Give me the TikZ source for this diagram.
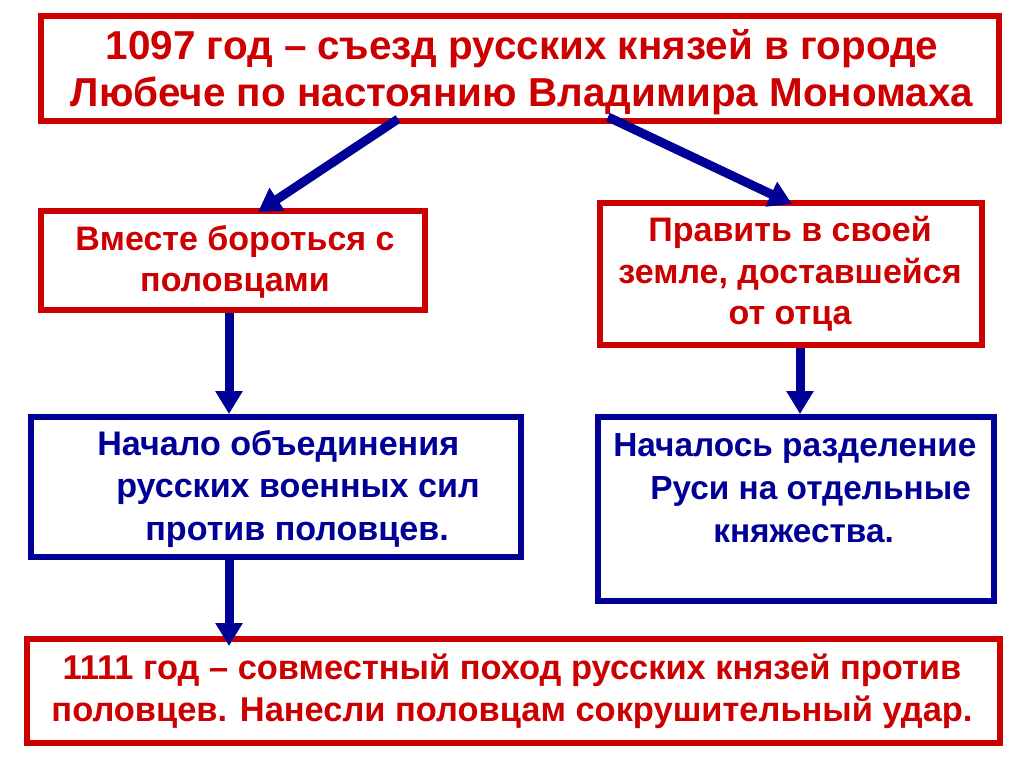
\documentclass[tikz,border=0pt]{standalone}
\usepackage{fontspec}
\setmainfont{Liberation Sans}
\usetikzlibrary{arrows.meta,calc}
\definecolor{bred}{RGB}{204,0,0}
\definecolor{bblue}{RGB}{0,0,150}
\tikzset{
  box/.style={draw, line width=0.12cm, inner sep=0pt, fill=white},
  redbox/.style={box, draw=bred},
  bluebox/.style={box, draw=bblue},
  redtext/.style={text=bred, font=\fontsize{19.35}{23.6}\selectfont\bfseries, inner sep=0pt},
  bluetext/.style={text=bblue, font=\fontsize{19.4}{24.4}\selectfont\bfseries, inner sep=0pt},
  toptext/.style={text=bred, font=\fontsize{23}{26.6}\selectfont\bfseries, inner sep=0pt},
  arr/.style={draw=bblue, line width=0.18cm, -{Triangle[length=0.46cm,width=0.52cm]}}
}
\begin{document}
\begin{tikzpicture}[x=0.02cm,y=-0.02cm]
\useasboundingbox[fill=white] (0,0) rectangle (1024,767);
% boxes
\node[redbox, minimum width=19.16cm, minimum height=2.1cm] (top) at (520,68.5) {};
\node[redbox, minimum width=7.68cm, minimum height=1.98cm] (A) at (233,260.5) {};
\node[redbox, minimum width=7.64cm, minimum height=2.84cm] (B) at (791,274) {};
\node[bluebox, minimum width=9.8cm, minimum height=2.8cm] (C) at (276,487) {};
\node[bluebox, minimum width=7.92cm, minimum height=3.68cm] (D) at (796,509) {};
\node[redbox, minimum width=19.46cm, minimum height=2.08cm] (E) at (513.5,691) {};
% texts
\node[toptext, align=center] (ttop) at (522,72) {1097 год – съезд русских князей в городе\\Любече по настоянию Владимира Мономаха};
\node[redtext, align=center] (tA) at (235,262) {Вместе бороться с\\половцами};
\node[redtext, align=center] (tB) at (790,274) {Править в своей\\земле, доставшейся\\от отца};
\node[bluetext, align=left, anchor=west] (tC) at (97,489) {Начало объединения\\\hspace*{0.38cm}русских военных сил\\\hspace*{0.96cm}против половцев.};
\node[bluetext, align=left, anchor=west, font=\fontsize{19}{24.4}\selectfont\bfseries] (tD) at (613,488) {Началось разделение\\\hspace*{0.74cm}Руси на отдельные\\\hspace*{2.0cm}княжества.};
\node[redtext, align=center, font=\fontsize{19.6}{24}\selectfont\bfseries] (tE) at (512,691) {1111 год – совместный поход русских князей против\\половцев. Нанесли половцам сокрушительный удар.};
% connector anchors
\coordinate (s1) at (398,119);
\coordinate (e1) at (258,212);
\coordinate (s2) at (608,117);
\coordinate (e2) at (792,204);
\coordinate (vx) at (229,0);
\coordinate (wx) at (800,0);
% arrows
\draw[arr] (s1) -- (e1);
\draw[arr] (s2) -- (e2);
\draw[arr] (A.south -| vx) -- (C.north -| vx);
\draw[arr] (B.south -| wx) -- (D.north -| wx);
\draw[arr, shorten >=-0.2cm] (C.south -| vx) -- (E.north -| vx);
\end{tikzpicture}
\end{document}
